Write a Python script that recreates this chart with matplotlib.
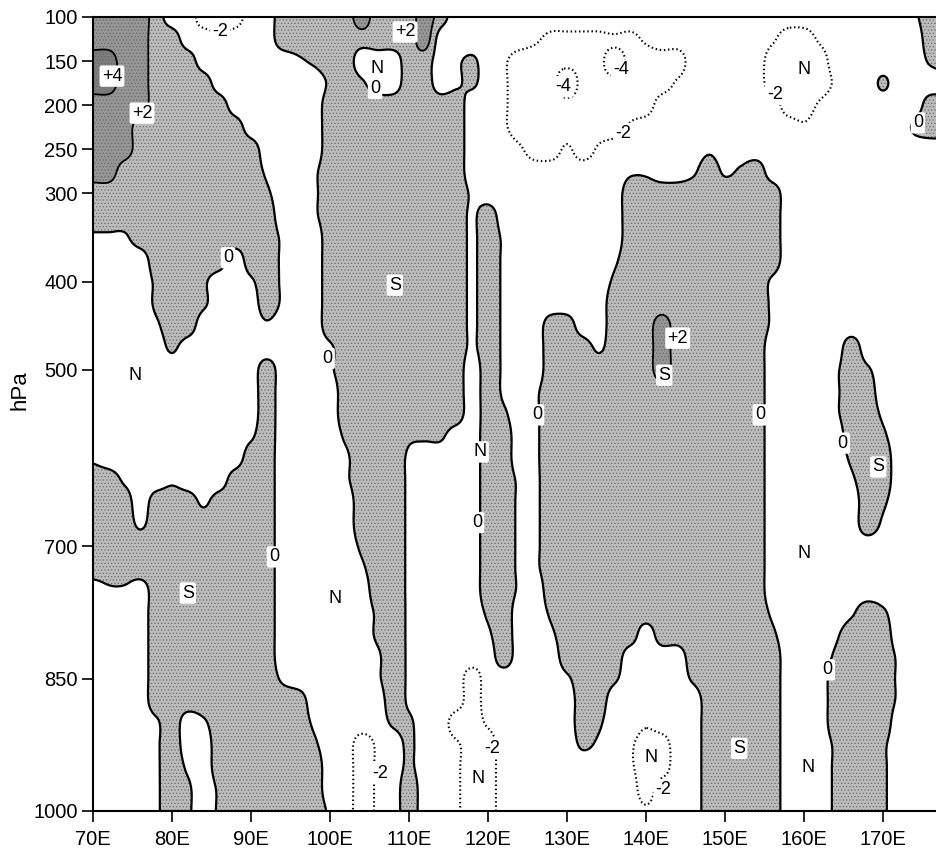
import numpy as np
import matplotlib.pyplot as plt

plt.rcParams['font.family'] = ['Liberation Sans', 'DejaVu Sans']
plt.rcParams['hatch.color'] = '#6a6a6a'
plt.rcParams['hatch.linewidth'] = 0.5

# grid of the cross-section: every 2 deg of longitude, every 25 hPa
lons = np.arange(70, 179, 2)            # 55 columns, 70E .. 178E
plevs = np.arange(100, 1001, 25)        # 37 rows, 100 .. 1000 hPa

# value class of the field
# '.' N (0..-2)   '-' below -2   '=' below -4   ';' ':' weak/strong near -2
# 'o' S (0..+2)   '#' above +2   '@' above +4   ',' 'i' weak -/+ near 0
code_value = {'.': -1.0, ',': -0.3, 'i': 0.3, 'o': 1.0, '#': 3.0, '@': 5.0,
              ';': -1.7, ':': -2.5, '-': -3.0, '=': -6.0}

# one string per pressure level, blocks of 10 deg (5 columns) separated by spaces
field_rows = [
    "####o ..--- ..ooo oo#oo o#o.. ..... ..... ..... ..... ..... ..,oo",  # 100
    "####o o..;. ..ooo ooooo o#... ...;: ::::: ;.... ...;- -;... ...oo",  # 125
    "@@##o oo... ...,i oo... oo.,i .;--- ---=- ---.. ...-- --... ...io",  # 150
    "@@##o ooo.. ..... ioi.. oo.,i .;--- =---- --;.. ...-- --;.. i....",  # 175
    "####o oooo. ..... ooooo oooo. .;--- ----- -.... ....- -;... ...oo",  # 200
    "###oo ooooo ..... ooooo oooo. .;--- ----; ..... ..... ;.... ..ioo",  # 225
    "###oo ooooo o.... ooooo oooo. ..;-- ;-;.. ...., ..... ..... .....",  # 250
    "##ooo ooooo o,.., ooooo oooo. ..... ...., ,..,o ,io.. ..... .....",  # 275
    "ooooo ooooo oi.., ooooo oooo, ..... ....o ooooo oooo. ..... .....",  # 300
    "ooooo ooooo oo.., ooooo oooo, o.... ....o ooooo oooo. ..... .....",  # 325
    ",,,oo ooooo oo,.. ooooo oooo, o,... ....o ooooo oooo. ..... .....",  # 350
    "....o oooo. oo,.. ooooo oooo, o,... ...,o ooooo oooo. ..... .....",  # 375
    "....i ooi.. ,o,.. ooooo oooo, o,... ...io ooooo ooo,. ..... .....",  # 400
    "....i ooi.. .o,.. ooooo oooo, o,... ...oo ooooo ooo,. ..... .....",  # 425
    "...., oo... .,... ooooo oooo, o,..o o..oo o#ooo ooo,. ..... .....",  # 450
    "..... i.... ..... ,oooo oooo, o,..o oo,oo o#ooo ooo.. ...o. .....",  # 475
    "..... ..... .o... ,oooo oooo. o,..o ooooo o#ooo ooo.. ..,oi .....",  # 500
    "..... ..... .o... .oooo oooo. o,.,o ooooo ooooo ooo.. ..,oo .....",  # 525
    "..... ..... .o... .oooo oooo. oi.,o ooooo ooooo ooo.. ..,oo ,....",  # 550
    "..... ..... ,o... .iooo iii.. oo.,o ooooo ooooo ooo.. ...oo i....",  # 575
    ",.... ..... oo... .,ooo ,.... oo.,o ooooo ooooo ooo.. ...io o....",  # 600
    "oo,.. ,...o oo... .,ooo ,.... oo,,o ooooo ooooo ooo.. ...,o o....",  # 625
    "ooo.o oo,oo oo... ..ooo ,.... oo,,o ooooo ooooo ooo.. ....o i....",  # 650
    "ooo,o ooooo oo... ..ooo ,.... oo,,o ooooo ooooo ooo.. ....o ,....",  # 675
    "ooooo ooooo oo... ..ioo ,.... oo,,o ooooo ooooo ooo.. ..... .....",  # 700
    "ooooo ooooo oo... ..,oo ,.... oo,,o ooooo ooooo ooo.. ..... .....",  # 725
    ".,,.o ooooo oo... ...oo ,.... oo,.o ooooo ooooo ooo.. ..... .....",  # 750
    "....o ooooo oo... ...io ,.... io..i ooooo ooooo ooo,. ...,o i....",  # 775
    "....o ooooo oo... ...io ,.... ,o.., ooooo .oooo oooi. ..,oo o....",  # 800
    "....o ooooo oo... ...,o ,.... .o... oooo. ...oo oooo. ..ioo o,...",  # 825
    "....o ooooo oo,.. ...,o ,...- ..... ,ooi. ...io oooo. ..ooo o,...",  # 850
    "....o ooooo oooo. ....o ,...- ..... .oo.. ....o oooo. ..ooo o,...",  # 875
    "...., o.,oo oooo, ....i i..-- ;.... .oi.. ;...o oooo. ..ooo o....",  # 900
    "...., o..oo ooooi ..-;. i..;- -.... .i,.; --..o oooo. ..ioo i....",  # 925
    "...., o,.oo ooooo ..-;. i..;- -.... ....; --..o oooo. ..ioo i....",  # 950
    "...., oi.io ooooo ..-;. o..;- -.... ..... -...o oooo. ..ioo i....",  # 975
    "...., oi.io ooooo ,.-;. o..;- -.... ..... ;...o oooo. ..ioo i....",  # 1000
]

# contour labels and N/S markers: (lon, hPa, text)
labels = [
    (72.4, 167, '+4'), (76.2, 209, '+2'), (86.1, 117, '-2'), (87.1, 373, '0'),
    (75.3, 506, 'N'), (82.0, 753, 'S'), (92.9, 712, '0'), (100.6, 759, 'N'),
    (99.7, 487, '0'), (108.2, 404, 'S'), (106.0, 158, 'N'), (105.7, 181, '0'),
    (109.5, 117, '+2'), (119.0, 593, 'N'), (118.6, 673, '0'), (120.5, 929, '-2'),
    (118.7, 963, 'N'), (106.3, 957, '-2'), (126.2, 551, '0'), (129.5, 179, '-4'),
    (136.8, 160, '-4'), (137.1, 232, '-2'), (144.0, 464, '+2'), (142.3, 506, 'S'),
    (154.4, 551, '0'), (160.0, 160, 'N'), (156.3, 188, '-2'), (174.4, 220, '0'),
    (164.9, 583, '0'), (169.4, 610, 'S'), (160.0, 708, 'N'), (163.0, 840, '0'),
    (151.8, 929, 'S'), (160.5, 951, 'N'), (140.6, 939, 'N'), (142.2, 976, '-2'),
]

xticks = list(range(70, 171, 10))
yticks = [100, 150, 200, 250, 300, 400, 500, 700, 850, 1000]

# build the field
rows = [r.replace(' ', '') for r in field_rows]
for k, r in enumerate(rows):
    if len(r) != len(lons):
        raise ValueError(f"row {plevs[k]} has {len(r)} columns")
Z = np.array([[code_value[c] for c in r] for r in rows])


# smooth resampling (Catmull-Rom) so the contours are rounded, not polygonal
def cubic_matrix(n, k):
    u = np.linspace(0, n - 1, (n - 1) * k + 1)
    W = np.zeros((len(u), n))
    i0 = np.floor(u).astype(int)
    t = u - i0
    rows_idx = np.arange(len(u))
    for off in (-1, 0, 1, 2):
        d = np.abs(t - off)
        w = np.where(d <= 1, 1.5 * d**3 - 2.5 * d**2 + 1,
                     np.where(d < 2, -0.5 * d**3 + 2.5 * d**2 - 4 * d + 2, 0.0))
        np.add.at(W, (rows_idx, np.clip(i0 + off, 0, n - 1)), w)
    return u, W


ux, Wx = cubic_matrix(len(lons), 8)
up, Wp = cubic_matrix(len(plevs), 8)
Zf = Wp @ Z @ Wx.T
lon_f = np.interp(ux, np.arange(len(lons)), lons)
p_f = np.interp(up, np.arange(len(plevs)), plevs)

fig = plt.figure(figsize=(9.36, 8.49), dpi=100)
ax = fig.add_axes([93 / 936, 38 / 849, 843 / 936, 794 / 849])

ax.contourf(lon_f, p_f, Zf, levels=[0, 2, 4, 50],
            colors=['#bcbcbc', '#969696', '#7c7c7c'],
            hatches=['.....', '.....', '.....'])
ax.contour(lon_f, p_f, Zf, levels=[0], colors='k', linewidths=1.6)
ax.contour(lon_f, p_f, Zf, levels=[2, 4], colors='k', linewidths=1.3)
neg = ax.contour(lon_f, p_f, Zf, levels=[-4, -2], colors='k', linewidths=1.5,
                 linestyles='dotted')
neg.set_linestyle((0, (0.7, 1.3)))

for lon, p, txt in labels:
    ax.text(lon, p, txt, fontsize=13, ha='center', va='center',
            bbox=dict(boxstyle='round,pad=0.12', fc='white', ec='none'))

ax.set_xlim(70, 176.7)
ax.set_ylim(1000, 100)
ax.set_xticks(xticks)
ax.set_xticklabels([f'{v}E' for v in xticks])
ax.set_yticks(yticks)
ax.set_yticklabels([str(v) for v in yticks])
ax.tick_params(direction='out', length=8, width=1.2, labelsize=14.5)
ax.tick_params(axis='x', pad=6)
ax.tick_params(axis='y', pad=3)
ax.spines['right'].set_visible(False)
for s in ('left', 'bottom', 'top'):
    ax.spines[s].set_linewidth(1.5)
ax.set_ylabel('hPa', fontsize=16)
ax.yaxis.set_label_coords(-0.074, 0.53)

fig.savefig('out.png', dpi=100)
